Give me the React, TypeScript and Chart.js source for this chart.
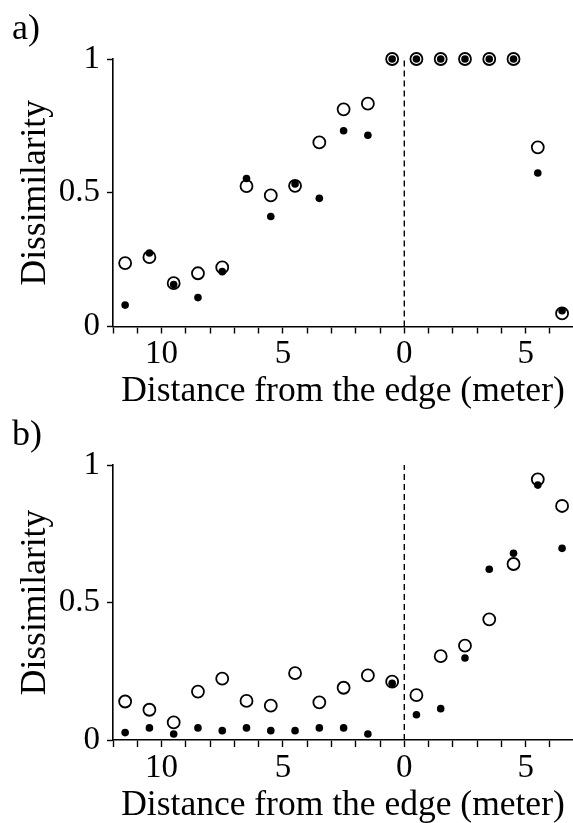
import React, { useEffect, useRef } from 'react';
import { Chart, registerables } from 'chart.js';

Chart.register(...registerables);

const FONT = "'Liberation Serif', 'Times New Roman', serif";

// distance from the edge (m); negative = inside, positive = outside
const positions = [-11.5, -10.5, -9.5, -8.5, -7.5, -6.5, -5.5, -4.5, -3.5, -2.5, -1.5, -0.5, 0.5, 1.5, 2.5, 3.5, 4.5, 5.5, 6.5];
const edgeX = 0;

const xMin = -12;
const xMax = 6.95;
const xTickValues = [-10, -5, 0, 5];
const yTickValues = [0, 0.5, 1];

// panel a
const aOpen = [0.237, 0.259, 0.162, 0.199, 0.221, 0.525, 0.49, 0.526, 0.688, 0.812, 0.833, 1, 1, 1, 1, 1, 1, 0.67, 0.049];
const aFilled = [0.08, 0.275, 0.157, 0.108, 0.205, 0.553, 0.411, 0.533, 0.479, 0.732, 0.715, 1, 1, 1, 1, 1, 1, 0.574, 0.059];

// panel b
const bOpen = [0.14, 0.11, 0.064, 0.176, 0.223, 0.142, 0.125, 0.243, 0.137, 0.19, 0.235, 0.212, 0.163, 0.305, 0.343, 0.439, 0.64, 0.948, 0.851];
const bFilled = [0.027, 0.044, 0.022, 0.044, 0.034, 0.044, 0.034, 0.034, 0.044, 0.044, 0.022, 0.206, 0.092, 0.114, 0.298, 0.621, 0.679, 0.927, 0.697];

const xTitle = 'Distance from the edge (meter)';
const yTitle = 'Dissimilarity';

type PanelProps = {
  top: number;
  height: number;
  plotTop: number;
  plotBottom: number;
  open: number[];
  filled: number[];
  titlePadBottom: number;
};

function Panel({ top, height, plotTop, plotBottom, open, filled, titlePadBottom }: PanelProps) {
  const ref = useRef<HTMLCanvasElement>(null);
  useEffect(() => {
    const chart = new Chart(ref.current as HTMLCanvasElement, {
      type: 'scatter',
      data: {
        datasets: [
          {
            label: 'filled',
            data: positions.map((x, i) => ({ x, y: filled[i] })),
            pointRadius: 3.8,
            pointBackgroundColor: '#000',
            pointBorderColor: '#000',
            pointBorderWidth: 0,
            clip: false,
            order: 0,
          },
          {
            label: 'open',
            data: positions.map((x, i) => ({ x, y: open[i] })),
            pointRadius: 6,
            pointBackgroundColor: 'rgba(0,0,0,0)',
            pointBorderColor: '#000',
            pointBorderWidth: 1.8,
            clip: false,
            order: 1,
          },
          {
            label: 'edge',
            data: [
              { x: edgeX, y: 0 },
              { x: edgeX, y: 1 },
            ],
            showLine: true,
            borderColor: '#000',
            borderWidth: 1.4,
            borderDash: [6, 4],
            pointRadius: 0,
            order: 2,
          },
        ],
      },
      options: {
        responsive: false,
        animation: false,
        events: [],
        layout: { autoPadding: false, padding: { top: plotTop, right: 0, bottom: 0, left: 0 } },
        plugins: { legend: { display: false }, tooltip: { enabled: false } },
        scales: {
          x: {
            type: 'linear',
            min: xMin,
            max: xMax,
            afterFit: (s: any) => {
              s.height = height - plotBottom;
              s.paddingLeft = 0;
              s.paddingRight = 0;
            },
            border: { color: '#000', width: 1.6 },
            grid: { drawOnChartArea: false, drawTicks: true, tickLength: 7, tickColor: '#000', tickWidth: 1.4 },
            ticks: {
              stepSize: 1,
              maxTicksLimit: 100,
              includeBounds: false,
              autoSkip: false,
              maxRotation: 0,
              color: '#000',
              padding: 4.5,
              font: { family: FONT, size: 33, lineHeight: 1 },
              callback: (v: any) => (xTickValues.includes(Number(v)) ? String(Math.abs(Number(v))) : ''),
            },
            title: {
              display: true,
              text: xTitle,
              color: '#000',
              font: { family: FONT, size: 35.5, lineHeight: 1 },
              padding: { top: 0, bottom: titlePadBottom },
            },
          },
          y: {
            type: 'linear',
            min: 0,
            max: 1,
            afterFit: (s: any) => {
              s.width = 113;
            },
            border: { color: '#000', width: 1.6 },
            grid: { drawOnChartArea: false, drawTicks: true, tickLength: 6, tickColor: '#000', tickWidth: 1.4 },
            ticks: {
              stepSize: 0.5,
              color: '#000',
              padding: 7,
              font: { family: FONT, size: 33, lineHeight: 1 },
              callback: (v: any) => (yTickValues.includes(Number(v)) ? String(v) : ''),
            },
            title: {
              display: true,
              text: yTitle,
              color: '#000',
              font: { family: FONT, size: 35.5, lineHeight: 1 },
              padding: { top: 17.5, bottom: 0 },
            },
          },
        },
      },
    } as any);
    return () => chart.destroy();
  }, []);
  return (
    <canvas
      ref={ref}
      width={573}
      height={height}
      style={{ position: 'absolute', left: 0, top, width: 573, height }}
    />
  );
}

const labelStyle: React.CSSProperties = {
  position: 'absolute',
  left: 12,
  fontFamily: FONT,
  fontSize: 36,
  lineHeight: 1,
  color: '#000',
};

export default function App() {
  return (
    <div style={{ position: 'absolute', left: 0, top: 0, width: 573, height: 823, background: '#fff', overflow: 'hidden' }}>
      <Panel top={0} height={412} plotTop={59} plotBottom={326.5} open={aOpen} filled={aFilled} titlePadBottom={2.5} />
      <Panel top={412} height={411} plotTop={53} plotBottom={328} open={bOpen} filled={bFilled} titlePadBottom={0} />
      <div style={{ ...labelStyle, top: 9 }}>a)</div>
      <div style={{ ...labelStyle, top: 415 }}>b)</div>
    </div>
  );
}
